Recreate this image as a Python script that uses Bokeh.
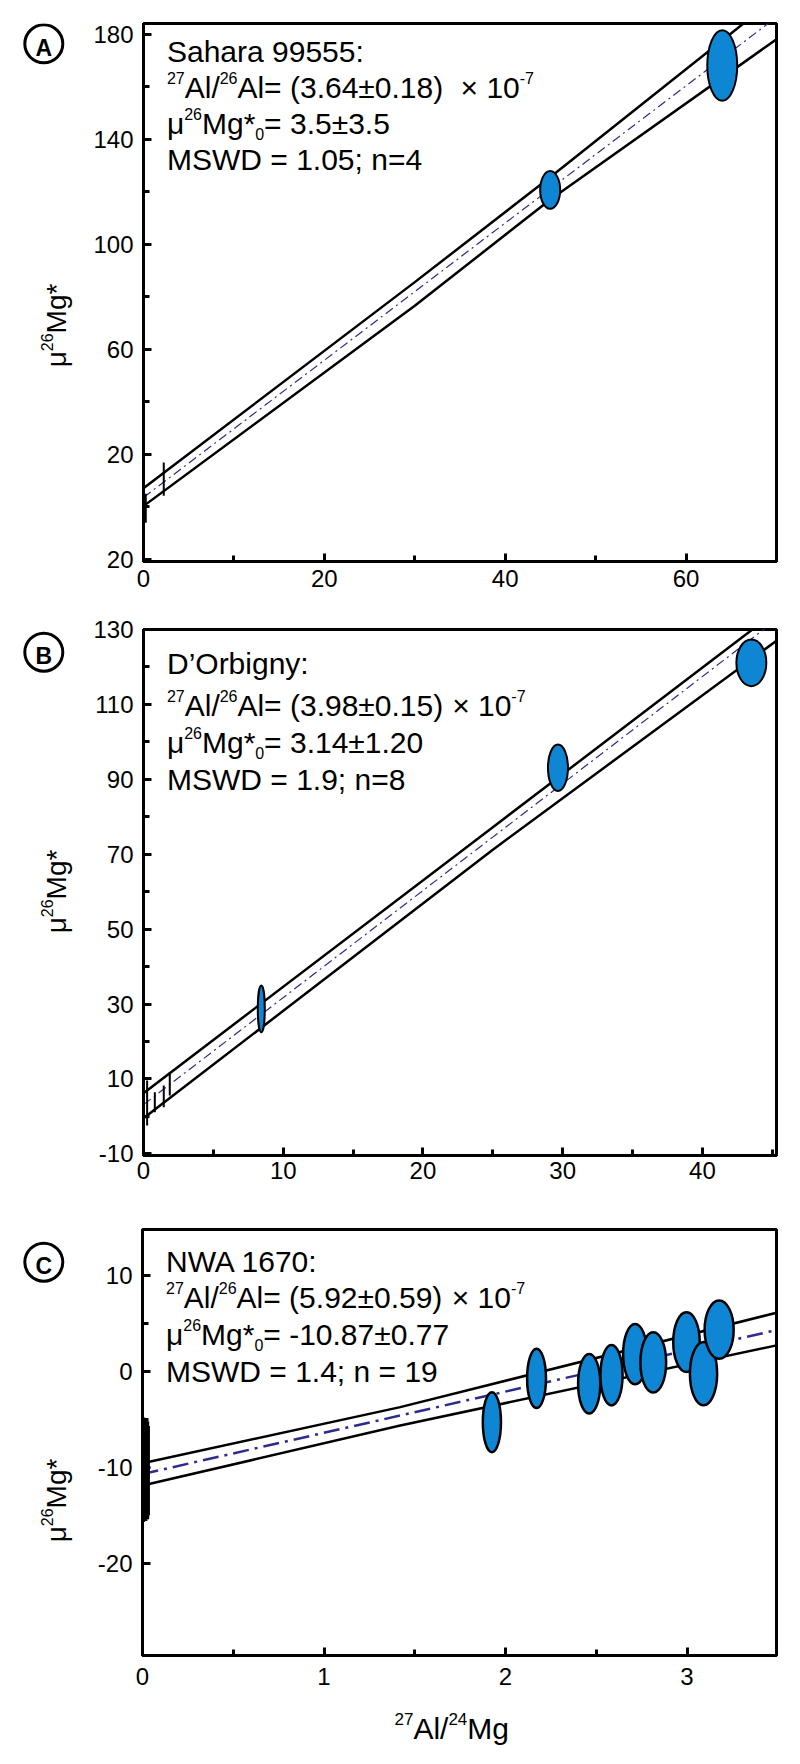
import numpy as np
from bokeh.plotting import figure
from bokeh.layouts import column, row
from bokeh.models import Range1d, FixedTicker, Label
from bokeh.core.properties import value
from bokeh.embed import file_html
from bokeh.resources import INLINE

# ---------------- Panel A : Sahara 99555 ----------------
a_ell_x = [44.97, 64.0]
a_ell_y = [120.6, 168.0]
a_ell_w = [2.21, 3.31]
a_ell_h = [14.4, 26.9]
a_bar_x = [0.25, 2.24]
a_bar_lo = [-6.1, 4.1]
a_bar_hi = [4.9, 16.8]
a_env_x = [0, 30, 45, 70]
a_env_up = [7.0, 85.5, 125.5, 194.0]
a_env_lo = [0.2, 76.5, 117.0, 178.0]
a_fit_x = [0, 70]
a_fit_y = [3.5, 186.4]
a_xticks = [0, 20, 40, 60]
a_xminor = [10, 30, 50, 70]
a_yticks = [-20, 20, 60, 100, 140, 180]
a_yminor = [0, 40, 80, 120, 160]
a_ylabel_override = {-20: "20"}
a_lines = [
    [("Sahara 99555:", "n")],
    [("27", "sup"), ("Al/", "n"), ("26", "sup"), ("Al= (3.64±0.18)  ", "n"), ("× 10", "n"), ("-7", "sup")],
    [("μ", "n"), ("26", "sup"), ("Mg*", "n"), ("0", "sub"), ("= 3.5±3.5", "n")],
    [("MSWD = 1.05; n=4", "n")],
]

# ---------------- Panel B : D'Orbigny ----------------
b_ell_x = [8.43, 29.66, 43.5]
b_ell_y = [28.7, 93.1, 121.1]
b_ell_w = [0.5, 1.43, 2.14]
b_ell_h = [12.45, 12.45, 12.45]
b_bar_x = [0.26, 0.81, 1.45, 1.88]
b_bar_lo = [-2.45, 1.09, 2.43, 5.55]
b_bar_hi = [9.55, 6.43, 8.21, 11.76]
b_env_x = [0, 25, 45.3]
b_env_up = [6.2, 77.2, 134.9]
b_env_lo = [-0.5, 71.2, 127.0]
b_fit_x = [0, 45.3]
b_fit_y = [3.14, 132.6]
b_xticks = [0, 10, 20, 30, 40]
b_xminor = [5, 15, 25, 35, 45]
b_yticks = [-10, 10, 30, 50, 70, 90, 110, 130]
b_yminor = [0, 20, 40, 60, 80, 100, 120]
b_ylabel_override = {-10: "-10"}
b_lines = [
    [("D’Orbigny:", "n")],
    [("27", "sup"), ("Al/", "n"), ("26", "sup"), ("Al= (3.98±0.15) ", "n"), ("× 10", "n"), ("-7", "sup")],
    [("μ", "n"), ("26", "sup"), ("Mg*", "n"), ("0", "sub"), ("= 3.14±1.20", "n")],
    [("MSWD = 1.9; n=8", "n")],
]

# ---------------- Panel C : NWA 1670 ----------------
c_ell_x = [1.925, 2.171, 2.461, 2.584, 2.714, 2.814, 2.997, 3.091, 3.177]
c_ell_y = [-5.3, -0.74, -1.29, -0.4, 1.79, 0.93, 3.04, -0.25, 4.34]
c_ell_w = [0.100, 0.104, 0.122, 0.122, 0.132, 0.142, 0.146, 0.150, 0.160]
c_ell_h = [6.26, 6.2, 6.2, 6.3, 6.3, 6.3, 6.2, 6.6, 6.1]
c_bar_x = [0.007, 0.010, 0.012, 0.015, 0.018, 0.020, 0.024, 0.027, 0.030, 0.034]
c_bar_lo = [-15.7, -15.2, -14.9, -15.5, -15.0, -15.6, -15.1, -14.8, -15.4, -15.0]
c_bar_hi = [-4.8, -5.3, -5.8, -5.1, -5.6, -4.9, -5.5, -5.9, -5.2, -5.7]
c_env_x = [0, 1.42, 3.493]
c_env_up = [-9.57, -3.73, 6.1]
c_env_lo = [-11.9, -5.64, 2.7]
c_fit_x = [0, 3.493]
c_fit_y = [-10.7, 4.3]
c_xticks = [0, 1, 2, 3]
c_xminor = [0.5, 1.5, 2.5]
c_yticks = [-20, -10, 0, 10]
c_yminor = [-15, -5, 5]
c_ylabel_override = {-10: "-10", -20: "-20"}
c_lines = [
    [("NWA 1670:", "n")],
    [("27", "sup"), ("Al/", "n"), ("26", "sup"), ("Al= (5.92±0.59) ", "n"), ("× 10", "n"), ("-7", "sup")],
    [("μ", "n"), ("26", "sup"), ("Mg*", "n"), ("0", "sub"), ("= -10.87±0.77", "n")],
    [("MSWD = 1.4; n = 19", "n")],
]

y_title = [("μ", "n"), ("26", "sup"), ("Mg*", "n")]
x_title = [("27", "sup"), ("Al/", "n"), ("24", "sup"), ("Mg", "n")]
panel_letters = ["A", "B", "C"]

# ---------------- styling / helpers ----------------
FONT = "Liberation Sans"
FILL = "#0F86D4"
DASHC = "#2E2B8F"
SHIFT = 0.2          # empirical baseline correction (fraction of font size)
SIDE_W = 90
W = {" ": 278, "(": 333, ")": 333, "*": 389, "-": 333, ".": 278, "/": 278, ":": 278, ";": 278,
     "=": 584, "A": 667, "B": 667, "C": 722, "D": 722, "I": 278, "M": 833, "N": 722, "O": 778,
     "S": 667, "W": 944, "a": 556, "b": 556, "g": 556, "h": 556, "i": 222, "l": 222, "n": 556,
     "r": 333, "y": 500, "±": 584, "×": 584, "μ": 576, "’": 222}


def tw(s, size):
    return sum(W.get(ch, 556) for ch in s) * size / 1000.0


class Geo:
    """maps page pixel coordinates to data coordinates of a figure's frame"""
    def __init__(self, top, bottom, xr, yr, L=142, R=776):
        self.L, self.R, self.T, self.B = L, R, top, bottom
        self.xr, self.yr = xr, yr

    def fx(self, px):
        return self.xr[0] + (px - self.L) / (self.R - self.L) * (self.xr[1] - self.xr[0])

    def fy(self, py):
        return self.yr[1] - (py - self.T) / (self.B - self.T) * (self.yr[1] - self.yr[0])


class PageGeo:
    """for helper figures whose ranges are page pixel coordinates"""
    def fx(self, px):
        return px

    def fy(self, py):
        return py


def put(p, g, px, py, txt, size, bold=False, align="left"):
    py = py - SHIFT * size
    p.add_layout(Label(x=g.fx(px), y=g.fy(py), text=txt, text_font=FONT,
                       text_font_size=f"{size}px", text_color="black", text_align=align,
                       text_baseline="alphabetic",
                       text_font_style="bold" if bold else "normal"))


def put_vertical(p, px, py, txt, size):
    # rotated text drawn as a text glyph (ranges of helper figure are page pixels)
    p.text(x=[px - SHIFT * size], y=[py], text=[txt], angle=np.pi / 2,
           text_font=value(FONT), text_font_size=value(f"{size}px"), text_color="black",
           text_align="left", text_baseline="alphabetic")


def rich(p, g, px, py, pieces, F, S, up, down, vertical=False):
    cur = 0.0
    for t, k in pieces:
        size = F if k == "n" else S
        lead = len(t) - len(t.lstrip(" "))
        trail = len(t) - len(t.rstrip(" "))
        core = t.strip(" ")
        cur += W[" "] * size / 1000 * lead
        off = -up if k == "sup" else (down if k == "sub" else 0)
        corr = SHIFT * (size - F)
        if vertical:
            put_vertical(p, px + off + corr, py - cur, core, size)
        else:
            put(p, g, px + cur, py + off + corr, core, size)
        cur += tw(core, size) + W[" "] * size / 1000 * trail
    return cur


def rich_len(pieces, F, S):
    return sum(tw(t, F if k == "n" else S) for t, k in pieces)


def blank_fig(width, height, xr, yr, top=0, bottom=0):
    p = figure(width=width, height=height, output_backend="svg", toolbar_location=None,
               x_range=Range1d(*xr), y_range=Range1d(*yr),
               x_axis_location=None, y_axis_location=None, min_border=0)
    p.min_border_left = 0
    p.min_border_right = 0
    p.min_border_top = top
    p.min_border_bottom = bottom
    p.grid.visible = False
    p.outline_line_color = None
    p.background_fill_color = "white"
    p.border_fill_color = "white"
    return p


def make_panel(row_top, row_h, top, bottom, xr, yr, xt, xm, yt, ym, standoff_x, overrides=None):
    g = Geo(top, bottom, xr, yr)
    p = figure(width=800 - SIDE_W, height=row_h, output_backend="svg", toolbar_location=None,
               x_range=Range1d(*xr), y_range=Range1d(*yr),
               min_border_left=142 - SIDE_W, min_border_right=24,
               min_border_top=top - row_top, min_border_bottom=row_top + row_h - bottom)
    p.grid.visible = False
    p.background_fill_color = "white"
    p.border_fill_color = "white"
    p.outline_line_color = "black"
    p.outline_line_width = 3
    p.xaxis.ticker = FixedTicker(ticks=xt, minor_ticks=xm)
    p.yaxis.ticker = FixedTicker(ticks=yt, minor_ticks=ym)
    for ax in (p.xaxis[0], p.yaxis[0]):
        ax.axis_line_width = 3
        ax.axis_line_color = "black"
        ax.major_tick_line_width = 3
        ax.minor_tick_line_width = 3
        ax.major_tick_line_color = "black"
        ax.minor_tick_line_color = "black"
        ax.major_tick_in = 8
        ax.major_tick_out = 0
        ax.minor_tick_in = 6
        ax.minor_tick_out = 0
        ax.major_label_text_font = FONT
        ax.major_label_text_font_size = "24px"
        ax.major_label_text_color = "black"
    p.xaxis.major_label_standoff = standoff_x
    p.yaxis.major_label_standoff = 10
    if overrides:
        p.yaxis.major_label_overrides = overrides
    return p, g


def draw_data(p, ex, ey, ew, eh, bx, blo, bhi, envx, envu, envl, fx_, fy_,
              env_w, dash, dash_w, ell_lw, bar_lw):
    p.line(envx, envu, line_color="black", line_width=env_w)
    p.line(envx, envl, line_color="black", line_width=env_w)
    p.line(fx_, fy_, line_color=DASHC, line_width=dash_w, line_dash=dash)
    p.segment(x0=bx, y0=blo, x1=bx, y1=bhi, line_color="black", line_width=bar_lw)
    p.ellipse(x=ex, y=ey, width=ew, height=eh, fill_color=FILL, line_color="black",
              line_width=ell_lw)


def side_fig(row_top, row_h, top, bottom, letter, cy_letter, ytitle_center, title_x=61.5):
    # frame of this helper figure covers the same page rows as the panel frame
    p = blank_fig(SIDE_W, row_h, (0, SIDE_W), (bottom, top),
                  top=top - row_top, bottom=row_top + row_h - bottom)
    g = PageGeo()
    p.scatter(x=[43.3], y=[cy_letter], size=38, marker="circle", fill_alpha=0,
              line_color="black", line_width=3)
    put(p, g, 43.3, cy_letter + 8.5, letter, 23, bold=True, align="center")
    L = rich_len(y_title, 28, 16)
    rich(p, g, title_x, ytitle_center + L / 2, y_title, 28, 16, 9.5, 0, vertical=True)
    return p


def annotate(p, g, lines, x0, baselines):
    for pieces, base in zip(lines, baselines):
        rich(p, g, x0, base, pieces, 30, 16, 9.5, 10.5)


# ---------------- Panel A ----------------
pA, gA = make_panel(0, 600, 23, 561, (0, 70), (-20.9, 184.0), a_xticks, a_xminor,
                    a_yticks, a_yminor, 8, a_ylabel_override)
draw_data(pA, a_ell_x, a_ell_y, a_ell_w, a_ell_h, a_bar_x, a_bar_lo, a_bar_hi,
          a_env_x, a_env_up, a_env_lo, a_fit_x, a_fit_y, 2.5, "9 4 2 4", 1.2, 2, 2)
annotate(pA, gA, a_lines, 165.5, [56.5, 92.5, 128.5, 164.5])
sA = side_fig(0, 600, 23, 561, panel_letters[0], 43.3, 325.0)

# ---------------- Panel B ----------------
pB, gB = make_panel(600, 600, 629, 1155, (0, 45.3), (-10.45, 130.0), b_xticks, b_xminor,
                    b_yticks, b_yminor, 6, b_ylabel_override)
draw_data(pB, b_ell_x, b_ell_y, b_ell_w, b_ell_h, b_bar_x, b_bar_lo, b_bar_hi,
          b_env_x, b_env_up, b_env_lo, b_fit_x, b_fit_y, 2.5, "9 4 2 4", 1.2, 2, 2)
annotate(pB, gB, b_lines, 165.5, [669.0, 711.0, 748.0, 784.5])
sB = side_fig(600, 600, 629, 1155, panel_letters[1], 651.7, 891.0)

# ---------------- Panel C ----------------
pC, gC = make_panel(1200, 504, 1229, 1655, (0, 3.493), (-29.6, 14.77), c_xticks, c_xminor,
                    c_yticks, c_yminor, 12, c_ylabel_override)
draw_data(pC, c_ell_x, c_ell_y, c_ell_w, c_ell_h, c_bar_x, c_bar_lo, c_bar_hi,
          c_env_x, c_env_up, c_env_lo, c_fit_x, c_fit_y, 2.5, "16 6 3 6", 2.5, 2.5, 2.5)
annotate(pC, gC, c_lines, 165.5, [1266.7, 1303.3, 1340.0, 1376.7])
sC = side_fig(1200, 504, 1229, 1655, panel_letters[2], 1261.7, 1500.0)

# x-axis title strip below panel C
pX = blank_fig(800, 56, (0, 800), (1760, 1704))
rich(pX, PageGeo(), 394, 1734.0, x_title, 30, 17, 10, 0)

layout = column(row(sA, pA, spacing=0), row(sB, pB, spacing=0), row(sC, pC, spacing=0), pX,
                spacing=0)
open("out.html", "w").write(file_html(layout, INLINE))
